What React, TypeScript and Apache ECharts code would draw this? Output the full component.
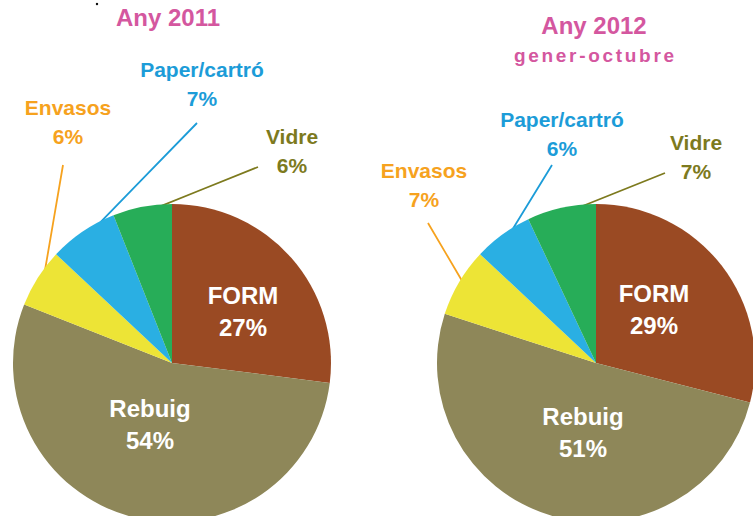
import React, { useEffect, useRef } from 'react';
import * as echarts from 'echarts';

// ---- data ----
const categories = ['FORM', 'Rebuig', 'Envasos', 'Paper/cartró', 'Vidre'];
const values2011 = [27, 54, 6, 7, 6];
const values2012 = [29, 51, 7, 6, 7];
const titles = ['Any 2011', 'Any 2012'];
const subtitles = ['', 'gener-octubre'];

// ---- styles / layout ----
const sliceColors = ['#9A4A23', '#8E8759', '#EDE436', '#2AAFE3', '#27AD58'];
const labelColors = ['#FFFFFF', '#FFFFFF', '#F6A21E', '#1C9CD8', '#7D7A1E'];
const FONT = '"Liberation Sans", Arial, sans-serif';
const centers: number[][] = [[172, 363], [596, 363]];
const R = 159;
const titleX = [168, 594];
const titleY = [17, 25];
const subtitleY = 55;
const labelAnchors: number[][][] = [
  [[243, 311], [150, 424], [68, 122], [202, 84], [292, 151]],
  [[654, 309], [583, 432], [424, 185], [562, 134], [696, 157]],
];
const lineEnds: (number[] | null)[][] = [
  [null, null, [63, 165], [197, 123], [258, 167]],
  [null, null, [428, 223], [552, 165], [665, 173]],
];
const allValues = [values2011, values2012];

function lineStart(s: number, i: number): number[] {
  const vals = allValues[s];
  const total = vals.reduce((a, b) => a + b, 0);
  let before = 0;
  for (let k = 0; k < i; k++) before += vals[k];
  const mid = (before + vals[i] / 2) / total;
  const th = mid * Math.PI * 2;
  const rr = R * 0.96;
  return [centers[s][0] + rr * Math.sin(th), centers[s][1] - rr * Math.cos(th)];
}

function makePie(s: number) {
  const vals = allValues[s];
  return {
    type: 'pie',
    center: centers[s],
    radius: R,
    startAngle: 90,
    clockwise: true,
    avoidLabelOverlap: false,
    silent: true,
    data: categories.map((name, i) => {
      const inner = i < 2;
      return {
        name,
        value: vals[i],
        itemStyle: { color: sliceColors[i] },
        label: {
          show: true,
          position: inner ? 'inside' : 'outside',
          formatter: '{b}\n{c}%',
          color: labelColors[i],
          fontFamily: FONT,
          fontWeight: 'bold',
          fontSize: inner ? 24 : 21,
          lineHeight: inner ? 32 : 29,
          align: 'center',
        },
        labelLine: inner
          ? { show: false }
          : { show: true, length: 10, length2: 10, smooth: false, lineStyle: { color: labelColors[i], width: 1.8 } },
      };
    }),
    labelLayout: (p: any) => {
      const a = labelAnchors[s][p.dataIndex];
      const out: any = { x: a[0], y: a[1], align: 'center', verticalAlign: 'middle' };
      const e = lineEnds[s][p.dataIndex];
      if (e) {
        const st = lineStart(s, p.dataIndex);
        out.labelLinePoints = [st, [(st[0] + e[0]) / 2, (st[1] + e[1]) / 2], e];
      }
      return out;
    },
  };
}

export default function App() {
  const ref = useRef<HTMLDivElement>(null);
  useEffect(() => {
    if (!ref.current) return;
    const chart = echarts.init(ref.current, null, { renderer: 'svg' });
    const graphics: any[] = [];
    titles.forEach((t, s) => {
      graphics.push({
        type: 'text', x: titleX[s], y: titleY[s], silent: true,
        style: { text: t, fill: '#D4579F', font: `bold 24px ${FONT}`, align: 'center', verticalAlign: 'middle' },
      });
      if (subtitles[s]) {
        graphics.push({
          type: 'text', x: titleX[s], y: subtitleY, silent: true,
          style: { text: subtitles[s], fill: '#D4579F', font: `bold 19px ${FONT}`, align: 'center', verticalAlign: 'middle' },
        });
      }
    });
    graphics.push({ type: 'circle', shape: { cx: 97, cy: 4, r: 1.2 }, style: { fill: '#000' }, silent: true });
    chart.setOption({
      animation: false,
      backgroundColor: '#FFFFFF',
      graphic: graphics,
      series: [makePie(0), makePie(1)],
    });
    // letter spacing for the subtitle
    const texts = ref.current.querySelectorAll('text');
    texts.forEach((el) => {
      if (el.textContent === subtitles[1]) {
        el.setAttribute('letter-spacing', '2.7');
        const x = parseFloat(el.getAttribute('x') || '0');
        el.setAttribute('x', String(x + 1.35));
      }
    });
    return () => chart.dispose();
  }, []);
  return <div ref={ref} style={{ position: 'fixed', left: 0, top: 0, width: 753, height: 516 }} />;
}
